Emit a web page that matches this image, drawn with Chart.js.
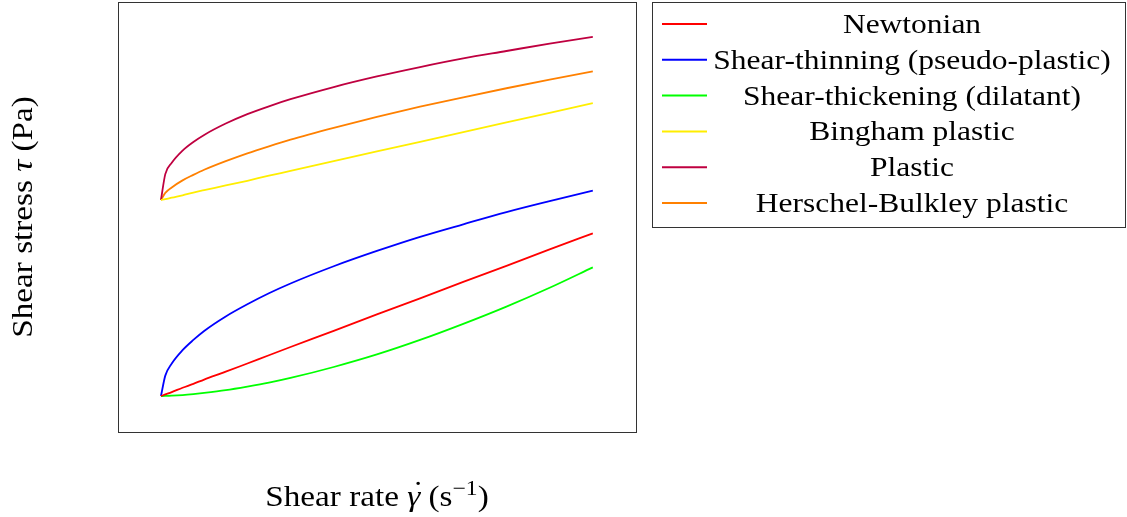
<!DOCTYPE html>
<html>
<head>
<meta charset="utf-8">
<script src="https://cdn.jsdelivr.net/npm/chart.js@4.4.1/dist/chart.umd.min.js"></script>
<style>
  html, body { margin: 0; padding: 0; background: #fff; }
  #wrap { width: 1127px; height: 517px; position: relative; }
</style>
</head>
<body>
<div id="wrap"><canvas id="chart"></canvas></div>
<script>
// shear rate samples (arbitrary units)
const rate = [0, 0.1, 0.25, 0.5, 0.75, 1, 1.5, 2, 2.5, 3, 4, 5, 6, 7, 8, 9, 10]

// shear stress for each fluid model at those rates
const newtonian = [0, 0.04, 0.1, 0.21, 0.31, 0.42, 0.62, 0.83, 1.04, 1.25, 1.66, 2.08, 2.49, 2.91, 3.32, 3.74, 4.15]
const thinning = [0, 0.52, 0.83, 1.17, 1.43, 1.66, 2.03, 2.34, 2.62, 2.87, 3.31, 3.7, 4.06, 4.38, 4.69, 4.97, 5.24]
const thickening = [0, 0.002, 0.008, 0.025, 0.05, 0.08, 0.15, 0.24, 0.34, 0.46, 0.74, 1.06, 1.43, 1.84, 2.28, 2.76, 3.28]
const bingham = [5, 5.02, 5.06, 5.12, 5.19, 5.25, 5.37, 5.49, 5.62, 5.74, 5.99, 6.24, 6.48, 6.73, 6.98, 7.22, 7.47]
const plastic = [5, 5.66, 5.95, 6.26, 6.48, 6.66, 6.95, 7.19, 7.39, 7.57, 7.88, 8.15, 8.39, 8.61, 8.8, 8.99, 9.16]
const herschel = [5, 5.18, 5.32, 5.5, 5.64, 5.77, 5.99, 6.19, 6.37, 6.54, 6.84, 7.12, 7.38, 7.62, 7.85, 8.07, 8.28]

const names = [
  "Newtonian",
  "Shear-thinning (pseudo-plastic)",
  "Shear-thickening (dilatant)",
  "Bingham plastic",
  "Plastic",
  "Herschel-Bulkley plastic",
]
const colors = ["#ff0000", "#0000ff", "#00ff00", "#ffee00", "#bf0040", "#ff8000"]
const series = [newtonian, thinning, thickening, bingham, plastic, herschel]

const serif = '"Liberation Serif", "DejaVu Serif", serif'
const size = 28
const stretch = 1.125

/** Draw a row of text runs centred on x, widened a little. */
function drawRuns(ctx, runs, x, y) {
  let width = 0
  for (const run of runs) {
    ctx.font = run.font
    width += ctx.measureText(run.text).width
  }
  ctx.save()
  ctx.translate(x, y)
  ctx.scale(stretch, 1)
  let cx = -width / 2
  for (const run of runs) {
    ctx.font = run.font
    const w = ctx.measureText(run.text).width
    ctx.fillText(run.text, cx, run.dy || 0)
    if (run.accent) {
      ctx.textAlign = "center"
      ctx.fillText(run.accent, cx + w / 2 + 2, -4)
      ctx.textAlign = "left"
    }
    cx += w
  }
  ctx.restore()
}

const decorations = {
  id: "decorations",
  afterDraw(chart) {
    const {ctx, chartArea: area} = chart
    ctx.save()
    ctx.strokeStyle = "#333"
    ctx.lineWidth = 1
    ctx.strokeRect(area.left + 0.5, area.top + 0.5, area.right - area.left, area.bottom - area.top)

    // legend box to the right of the plot
    const left = area.right + 16
    const top = area.top
    const right = chart.width - 1
    const step = 35.8
    ctx.strokeRect(left + 0.5, top + 0.5, right - left - 1, 225)
    ctx.fillStyle = "#000"
    ctx.textBaseline = "alphabetic"
    ctx.textAlign = "left"
    names.forEach((name, i) => {
      const y = top + 22 + i * step
      ctx.strokeStyle = colors[i]
      ctx.lineWidth = 2
      ctx.beginPath()
      ctx.moveTo(left + 10, y)
      ctx.lineTo(left + 55, y)
      ctx.stroke()
      drawRuns(ctx, [{text: name, font: `${size}px ${serif}`}], left + 260, y + 9)
    })

    // axis titles, a touch larger than the legend
    const big = size + 1.5
    const normal = `${big}px ${serif}`
    const italic = `italic ${big}px ${serif}`
    const small = `${Math.round(big * 0.7)}px ${serif}`
    drawRuns(ctx, [
      {text: "Shear rate ", font: normal},
      {text: "\u03b3", font: italic, accent: "\u02d9"},
      {text: " (s", font: normal},
      {text: "\u22121", font: small, dy: -11},
      {text: ")", font: normal},
    ], (area.left + area.right) / 2, 506)

    ctx.translate(32, (area.top + area.bottom) / 2)
    ctx.rotate(-Math.PI / 2)
    drawRuns(ctx, [
      {text: "Shear stress ", font: normal},
      {text: "\u03c4", font: italic},
      {text: " (Pa)", font: normal},
    ], 0, 0)
    ctx.restore()
  }
}

new Chart(document.getElementById("chart"), {
  type: "line",
  data: {
    datasets: series.map((values, i) => ({
      label: names[i],
      data: rate.map((x, j) => ({x, y: values[j]})),
      borderColor: colors[i],
      borderWidth: 1.8,
      pointRadius: 0,
      cubicInterpolationMode: "monotone",
      fill: false,
    }))
  },
  options: {
    responsive: true,
    maintainAspectRatio: false,
    animation: false,
    layout: { padding: { left: 118, top: 2, right: 491, bottom: 85 } },
    plugins: { legend: { display: false }, tooltip: { enabled: false } },
    scales: {
      x: { type: "linear", min: -0.995, max: 11.0, display: false },
      y: { type: "linear", min: -0.918, max: 10.05, display: false },
    }
  },
  plugins: [decorations]
})
</script>
</body>
</html>
